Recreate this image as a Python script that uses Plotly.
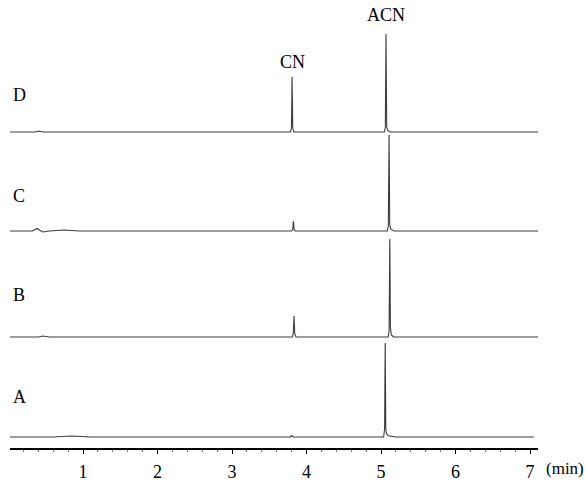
import plotly.graph_objects as go

# Chromatogram traces (time in min, detector signal in arbitrary units)
labels = ["A", "B", "C", "D"]
offsets = [11, 111, 217, 316]

time_A = [0.02, 0.60, 0.85, 1.10, 3.78, 3.80, 3.82, 5.035, 5.048, 5.056, 5.064, 5.075, 5.10, 5.20, 7.05]
sig_A = [0, 0, 1, 0, 0, 1.5, 0, 0, 8, 94, 8, 3, 1.2, 0, 0]

time_B = [0.02, 0.40, 0.46, 0.55, 3.81, 3.823, 3.832, 3.842, 3.86, 5.095, 5.108, 5.118, 5.126, 5.138, 5.17, 7.12]
sig_B = [0, 0, 1, 0, 0, 4, 21, 3, 0, 0, 5, 98, 10, 2, 0, 0]

time_C = [0.02, 0.32, 0.38, 0.46, 0.55, 0.75, 0.95, 3.80, 3.815, 3.824, 3.835, 3.85, 5.085, 5.098, 5.108, 5.117, 5.13, 5.17, 7.12]
sig_C = [0, 0, 2.5, -1, 0, 1, 0, 0, 2, 10, 1, 0, 0, 5, 96, 6, 2, 0, 0]

time_D = [0.02, 0.36, 0.41, 0.46, 3.785, 3.798, 3.806, 3.815, 3.83, 5.045, 5.058, 5.067, 5.076, 5.09, 5.12, 7.12]
sig_D = [0, 0, 1, 0, 0, 4, 55, 4, 0, 0, 5, 98, 5, 1.5, 0, 0]

peak_names = ["CN", "ACN"]
peak_times = [3.806, 5.067]
peak_label_y = [386, 433]

tick_vals = [1, 2, 3, 4, 5, 6, 7]
tick_text = ["1", "2", "3", "4", "5", "6", "7"]
unit_label = "(min)"

times = [time_A, time_B, time_C, time_D]
sigs = [sig_A, sig_B, sig_C, sig_D]
label_y = [51, 153, 252, 353]

FONT = "Liberation Serif"

fig = go.Figure()
for lab, off, t, s in zip(labels, offsets, times, sigs):
    fig.add_trace(go.Scatter(
        x=t, y=[off + v for v in s], mode="lines", name=lab,
        line=dict(color="#3c3c3c", width=1.1), hoverinfo="skip",
        showlegend=False))

annotations = []
for lab, y in zip(labels, label_y):
    annotations.append(dict(x=0.04, y=y, xref="x", yref="y", text=lab,
                            showarrow=False, xanchor="left", yanchor="middle",
                            font=dict(family=FONT, size=18, color="black")))
for name, t, y in zip(peak_names, peak_times, peak_label_y):
    annotations.append(dict(x=t, y=y, xref="x", yref="y", text=name,
                            showarrow=False, xanchor="center", yanchor="middle",
                            font=dict(family=FONT, size=18, color="black")))
annotations.append(dict(x=1.011, y=-0.045, xref="paper", yref="paper", text=unit_label,
                        showarrow=False, xanchor="left", yanchor="middle",
                        font=dict(family=FONT, size=17, color="black")))

fig.update_layout(
    width=586, height=483,
    margin=dict(l=10, r=48, t=0, b=35),
    paper_bgcolor="white", plot_bgcolor="white",
    font=dict(family=FONT, size=17, color="black"),
    annotations=annotations,
    xaxis=dict(
        range=[0.02, 7.107], showgrid=False, zeroline=False,
        showline=True, linecolor="black", linewidth=1.5,
        tickmode="array", tickvals=tick_vals, ticktext=tick_text,
        ticks="outside", ticklen=4, tickwidth=1, tickcolor="black",
        minor=dict(ticks="outside", ticklen=2, tickwidth=1, tickcolor="#777",
                   dtick=0.2, tick0=0, showgrid=False),
        ticklabelstandoff=3,
        tickfont=dict(family=FONT, size=18, color="black"),
    ),
    yaxis=dict(range=[0, 448], visible=False, showgrid=False, zeroline=False),
)

fig.write_html(
    "out.html",
    config={"displayModeBar": False},
    post_script="document.body.style.margin='0';document.body.style.padding='0';"
                "document.body.style.overflow='hidden';",
)
